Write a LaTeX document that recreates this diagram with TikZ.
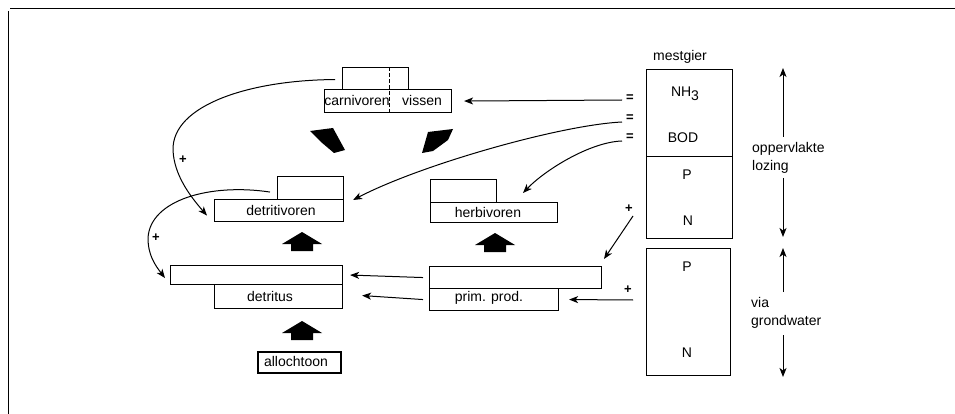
\documentclass[tikz,border=0pt]{standalone}
\usepackage{fontspec}
\setmainfont{Liberation Sans}
\usetikzlibrary{arrows.meta}
\begin{document}
\begin{tikzpicture}[x=1pt,y=-1pt,
  bx/.style={draw,line width=1.1pt,inner sep=0pt,anchor=north west},
  lbl/.style={inner sep=0pt,font=\fontsize{14}{18}\selectfont},
  sgn/.style={inner sep=0pt,font=\fontsize{13}{13}\selectfont\bfseries},
  thinarr/.style={line width=1pt,-{Stealth[length=9pt,width=7pt,inset=2.5pt]}},
  bigup/.pic={\fill (0,0) -- (20,12) -- (11,12) -- (11,19) -- (-11,19) -- (-11,12) -- (-20,12) -- cycle;}]
\useasboundingbox (0,0) rectangle (955,414);
% frame
\draw[line width=0.8pt] (10,8) -- (955,8);
\draw[line width=0.8pt] (8,11) -- (8,414);
% boxes
\node[bx,minimum width=66pt,minimum height=22pt] (carU) at (342,67) {};
\node[bx,minimum width=127pt,minimum height=23pt] (carL) at (324,89) {};
\node[bx,minimum width=66pt,minimum height=23pt] (dtvU) at (277,176) {};
\node[bx,minimum width=129pt,minimum height=22pt] (dtvL) at (214,199) {};
\node[bx,minimum width=172pt,minimum height=19pt] (dtU) at (170,265) {};
\node[bx,minimum width=128pt,minimum height=24pt] (dtL) at (214,284) {};
\node[bx,line width=1.8pt,minimum width=83pt,minimum height=21pt] (allo) at (257,351) {};
\node[bx,minimum width=66pt,minimum height=23pt] (hbU) at (430,179) {};
\node[bx,minimum width=127pt,minimum height=20pt] (hbL) at (430,202) {};
\node[bx,minimum width=172pt,minimum height=22pt] (ppU) at (429,266) {};
\node[bx,minimum width=129pt,minimum height=22pt] (ppL) at (429,288) {};
\node[bx,minimum width=86pt,minimum height=87pt] (mU) at (646,69) {};
\node[bx,minimum width=86pt,minimum height=82pt] (mM) at (646,156) {};
\node[bx,minimum width=84pt,minimum height=127pt] (mL) at (646,248) {};
\draw[line width=0.9pt,dash pattern=on 4pt off 2pt] (carU.north -| 389,0) -- (carL.south -| 389,0);
% texts
\node[lbl] (tcar) at (357,100) {carnivoren};
\node[lbl] (tvis) at (422,100) {vissen};
\node[lbl] (tdtv) at (281,210) {detritivoren};
\node[lbl] (tdt) at (270,296) {detritus};
\node[lbl] (tallo) at (296,361) {allochtoon};
\node[lbl] (thb) at (488,212) {herbivoren};
\node[lbl] (tpp) at (489,298) {prim. prod.};
\node[lbl] (tmest) at (680,57) {mestgier};
\node[lbl] (tnh) at (685,94) {NH\raisebox{-4pt}{3}};
\node[lbl] (tbod) at (683,138) {BOD};
\node[lbl] (tp1) at (687,175) {P};
\node[lbl] (tn1) at (688,221) {N};
\node[lbl] (tp2) at (687,267) {P};
\node[lbl] (tn2) at (687,353) {N};
\node[lbl,align=left,anchor=west] (topp) at (752,158) {oppervlakte\\lozing};
\node[lbl,align=left,anchor=west] (tvia) at (751,313) {via\\grondwater};
% signs
\node[sgn] (s1) at (630,98) {=};
\node[sgn] (s2) at (630,118) {=};
\node[sgn] (s3) at (630,137) {=};
\node[sgn] (p1) at (183,160) {+};
\node[sgn] (p2) at (156,238) {+};
\node[sgn] (p3) at (629,209) {+};
\node[sgn] (p4) at (628,290) {+};
% free ends
\coordinate (s1e) at (622,100);
\coordinate (s2e) at (622,122);
\coordinate (s3e) at (622,141);
\coordinate (hbtip) at (523,193);
\coordinate (p3e) at (633,216);
\coordinate (pptip) at (604,259);
\coordinate (p4e) at (633,300);
% thin arrows
\draw[thinarr] (s1e) -- ([xshift=12pt]carL.east);
\draw[thinarr] (s2e) .. controls (560,125) and (420,165) .. ([xshift=9pt,yshift=-1pt]dtvL.north east);
\draw[thinarr] (s3e) .. controls (590,142) and (545,170) .. (hbtip);
\draw[thinarr] (p3e) -- (pptip);
\draw[thinarr] (p4e) -- ([xshift=10pt]ppL.east);
\draw[thinarr] ([xshift=-6pt]ppU.west) -- ([xshift=7pt]dtU.east);
\draw[thinarr] ([xshift=-6pt]ppL.west) -- ([xshift=19pt,yshift=1pt]dtL.east);
\draw[thinarr] ([xshift=-7pt,yshift=-1pt]carU.west) .. controls (250,80) and (172,105) .. (173,150) .. controls (174,175) and (190,196) .. ([xshift=-7pt,yshift=-5pt]dtvL.west);
\draw[thinarr] ([xshift=-7pt,yshift=-4pt]dtvU.west) .. controls (210,183) and (150,200) .. (148,238) .. controls (148,255) and (155,265) .. ([xshift=-5pt,yshift=-3pt]dtU.west);
% right side arrows
\draw[thinarr] (783,137) -- (783,68);
\draw[thinarr] (783,178) -- (783,237);
\draw[thinarr] (783,292) -- (783,248);
\draw[thinarr] (783,335) -- (783,377);
% block arrows
\pic at (302,232) {bigup};
\pic at (302,321) {bigup};
\pic at (495,233) {bigup};
\fill (310,131) -- (333,128) -- (345,150) -- (334,153) -- (321,142) -- cycle;
\fill (428,132) -- (453,129) -- (448,140) -- (433,151) -- (422,153) -- cycle;
\end{tikzpicture}
\end{document}
